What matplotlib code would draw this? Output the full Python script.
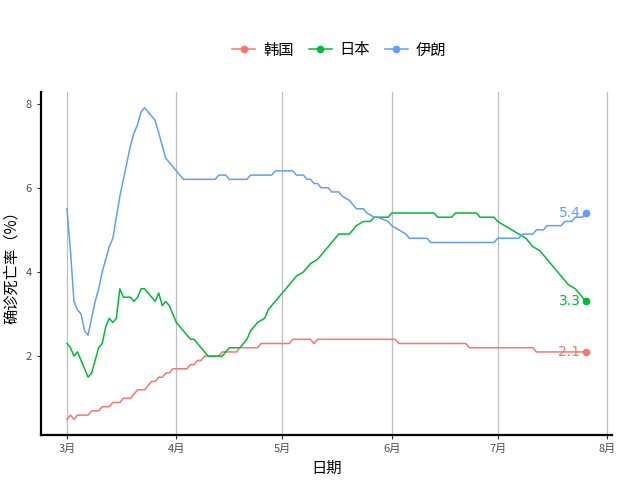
import pandas as pd
import matplotlib
matplotlib.use("Agg")
import matplotlib.pyplot as plt
import matplotlib.dates as mdates
from matplotlib.lines import Line2D

plt.rcParams['font.family'] = ['Noto Sans CJK SC', 'DejaVu Sans']

# 确诊死亡率 (%), 2020 年, 只记录变化点
korea_dates = ["03-01", "03-02", "03-03", "03-04", "03-07", "03-08", "03-10", "03-11", "03-13",
               "03-14", "03-16", "03-17", "03-19", "03-20", "03-21", "03-23", "03-24", "03-25",
               "03-26", "03-27", "03-28", "03-29", "03-30", "03-31", "04-04", "04-05", "04-06",
               "04-07", "04-08", "04-09", "04-13", "04-14", "04-18", "04-19", "04-24", "04-25",
               "05-03", "05-04", "05-09", "05-10", "05-11", "06-02", "06-03", "06-22", "06-23",
               "07-11", "07-12", "07-26"]
korea_vals = [0.5, 0.6, 0.5, 0.6, 0.6, 0.7, 0.7, 0.8, 0.8,
              0.9, 0.9, 1.0, 1.0, 1.1, 1.2, 1.2, 1.3, 1.4,
              1.4, 1.5, 1.5, 1.6, 1.6, 1.7, 1.7, 1.8, 1.8,
              1.9, 1.9, 2.0, 2.0, 2.1, 2.1, 2.2, 2.2, 2.3,
              2.3, 2.4, 2.4, 2.3, 2.4, 2.4, 2.3, 2.3, 2.2,
              2.2, 2.1, 2.1]

japan_dates = ["03-01", "03-02", "03-03", "03-04", "03-05", "03-06", "03-07", "03-08", "03-09",
               "03-10", "03-11", "03-12", "03-13", "03-14", "03-15", "03-16", "03-17", "03-19",
               "03-20", "03-21", "03-22", "03-23", "03-24", "03-25", "03-26", "03-27", "03-28",
               "03-29", "03-30", "03-31", "04-01", "04-02", "04-03", "04-04", "04-05", "04-06",
               "04-07", "04-08", "04-09", "04-10", "04-14", "04-15", "04-16", "04-19", "04-20",
               "04-21", "04-22", "04-23", "04-24", "04-26", "04-27", "04-28", "04-29", "04-30",
               "05-01", "05-02", "05-03", "05-04", "05-05", "05-07", "05-08", "05-09", "05-11",
               "05-12", "05-13", "05-14", "05-15", "05-16", "05-17", "05-20", "05-21", "05-22",
               "05-24", "05-26", "05-27", "05-31", "06-01", "06-13", "06-14", "06-18", "06-19",
               "06-25", "06-26", "06-30", "07-01", "07-03", "07-05", "07-07", "07-09", "07-10",
               "07-11", "07-13", "07-14", "07-15", "07-16", "07-17", "07-18", "07-19", "07-20",
               "07-21", "07-23", "07-24", "07-25", "07-26"]
japan_vals = [2.3, 2.2, 2.0, 2.1, 1.9, 1.7, 1.5, 1.6, 1.9,
              2.2, 2.3, 2.7, 2.9, 2.8, 2.9, 3.6, 3.4, 3.4,
              3.3, 3.4, 3.6, 3.6, 3.5, 3.4, 3.3, 3.5, 3.2,
              3.3, 3.2, 3.0, 2.8, 2.7, 2.6, 2.5, 2.4, 2.4,
              2.3, 2.2, 2.1, 2.0, 2.0, 2.1, 2.2, 2.2, 2.3,
              2.4, 2.6, 2.7, 2.8, 2.9, 3.1, 3.2, 3.3, 3.4,
              3.5, 3.6, 3.7, 3.8, 3.9, 4.0, 4.1, 4.2, 4.3,
              4.4, 4.5, 4.6, 4.7, 4.8, 4.9, 4.9, 5.0, 5.1,
              5.2, 5.2, 5.3, 5.3, 5.4, 5.4, 5.3, 5.3, 5.4,
              5.4, 5.3, 5.3, 5.2, 5.1, 5.0, 4.9, 4.8, 4.7,
              4.6, 4.5, 4.4, 4.3, 4.2, 4.1, 4.0, 3.9, 3.8,
              3.7, 3.6, 3.5, 3.4, 3.3]

iran_dates = ["03-01", "03-02", "03-03", "03-04", "03-05", "03-06", "03-07", "03-08", "03-09",
              "03-10", "03-11", "03-12", "03-13", "03-14", "03-15", "03-16", "03-17", "03-18",
              "03-19", "03-20", "03-21", "03-22", "03-23", "03-24", "03-25", "03-26", "03-27",
              "03-28", "03-29", "03-30", "03-31", "04-01", "04-02", "04-03", "04-12", "04-13",
              "04-15", "04-16", "04-21", "04-22", "04-28", "04-29", "05-04", "05-05", "05-07",
              "05-08", "05-09", "05-10", "05-11", "05-12", "05-14", "05-15", "05-17", "05-18",
              "05-20", "05-21", "05-22", "05-24", "05-25", "05-27", "05-28", "05-31", "06-01",
              "06-03", "06-05", "06-06", "06-11", "06-12", "06-30", "07-01", "07-07", "07-08",
              "07-11", "07-12", "07-14", "07-15", "07-19", "07-20", "07-22", "07-23", "07-25",
              "07-26"]
iran_vals = [5.5, 4.5, 3.3, 3.1, 3.0, 2.6, 2.5, 2.9, 3.3,
             3.6, 4.0, 4.3, 4.6, 4.8, 5.3, 5.8, 6.2, 6.6,
             7.0, 7.3, 7.5, 7.8, 7.9, 7.8, 7.7, 7.6, 7.3,
             7.0, 6.7, 6.6, 6.5, 6.4, 6.3, 6.2, 6.2, 6.3,
             6.3, 6.2, 6.2, 6.3, 6.3, 6.4, 6.4, 6.3, 6.3,
             6.2, 6.2, 6.1, 6.1, 6.0, 6.0, 5.9, 5.9, 5.8,
             5.7, 5.6, 5.5, 5.5, 5.4, 5.3, 5.3, 5.2, 5.1,
             5.0, 4.9, 4.8, 4.8, 4.7, 4.7, 4.8, 4.8, 4.9,
             4.9, 5.0, 5.0, 5.1, 5.1, 5.2, 5.2, 5.3, 5.3,
             5.4]

series_names = ["韩国", "日本", "伊朗"]
series_colors = ["#F8766D", "#00BA38", "#619CFF"]
month_ticks = ["2020-03-01", "2020-04-01", "2020-05-01", "2020-06-01", "2020-07-01", "2020-08-01"]
month_labels = ["3月", "4月", "5月", "6月", "7月", "8月"]


def to_dates(md):
    return pd.to_datetime(["2020-" + s for s in md])


fig = plt.figure(figsize=(6.4, 4.8), dpi=100)
ax = fig.add_axes([0.064, 0.094, 0.892, 0.714])

series = [(korea_dates, korea_vals), (japan_dates, japan_vals), (iran_dates, iran_vals)]
handles = []
for (d, v), name, color in zip(series, series_names, series_colors):
    x = to_dates(d)
    ax.plot(x, v, color=color, lw=1.1)
    ax.plot(x[-1], v[-1], "o", color=color, ms=4.5)
    ax.annotate(f"{v[-1]:.1f}", (x[-1], v[-1]), xytext=(-4, 0), textcoords="offset points",
                ha="right", va="center", color=color, fontsize=10, family="DejaVu Sans")
    handles.append(Line2D([0], [0], color=color, lw=1.1, marker="o", ms=4.5))

# 坐标轴范围 (ggplot 默认 5% 扩展)
x0 = pd.Timestamp("2020-03-01")
x1 = pd.Timestamp("2020-07-26")
pad = (x1 - x0) * 0.05
ax.set_xlim(x0 - pad, x1 + pad)
ax.set_ylim(0.13, 8.27)

ax.set_xticks(pd.to_datetime(month_ticks))
ax.set_xticklabels(month_labels)
ax.set_yticks([2, 4, 6, 8])
ax.tick_params(axis="both", labelsize=8, labelcolor="#4D4D4D", length=3, color="#333333")
ax.grid(axis="x", color="#BEBEBE", lw=0.9)
ax.grid(axis="y", visible=False)
ax.set_axisbelow(True)

for side in ["top", "right"]:
    ax.spines[side].set_visible(False)
for side in ["left", "bottom"]:
    ax.spines[side].set_linewidth(1.6)
    ax.spines[side].set_color("black")

ax.set_xlabel("日期", fontsize=11)
ax.set_ylabel("确诊死亡率（%）", fontsize=11)

fig.legend(handles, series_names, loc="center", bbox_to_anchor=(0.53, 0.896), ncol=3,
           frameon=False, fontsize=11, handlelength=1.5, columnspacing=1.0, handletextpad=0.5)

fig.savefig("out.png", dpi=100)
